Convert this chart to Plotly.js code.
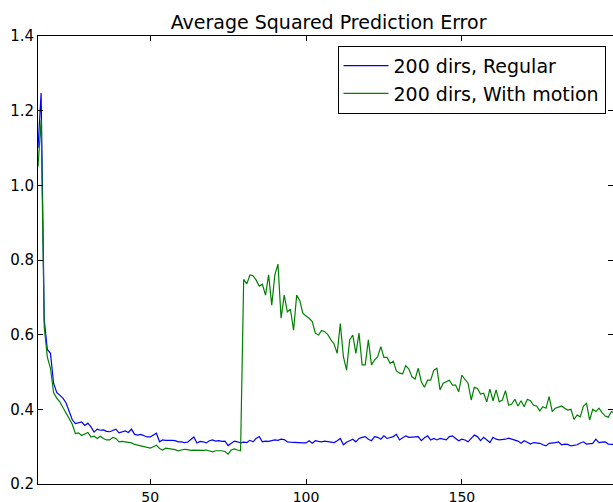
<!DOCTYPE html>
<html>
<head>
<meta charset="utf-8">
<script src="https://cdn.plot.ly/plotly-3.0.1.min.js"></script>
<style>html,body{margin:0;padding:0;background:#fff;}#chart{width:613px;height:502px;}</style>
</head>
<body>
<div id="chart"></div>
<script>
const xStart = 14;
const regular = [
1.10,1.247,0.64,0.56,0.55,0.47,0.445,0.437,0.43,0.417,
0.395,0.372,0.362,0.363,0.366,0.357,0.363,0.353,0.339,0.347,
0.344,0.345,0.341,0.340,0.343,0.347,0.337,0.340,0.342,0.338,
0.347,0.333,0.331,0.333,0.330,0.326,0.326,0.331,0.336,0.313,
0.318,0.317,0.318,0.317,0.316,0.313,0.313,0.311,0.312,0.318,
0.326,0.310,0.314,0.313,0.310,0.316,0.318,0.315,0.316,0.314,
0.315,0.303,0.310,0.315,0.313,0.310,0.312,0.311,0.317,0.313,
0.322,0.327,0.313,0.315,0.314,0.316,0.318,0.317,0.320,0.319,
0.313,0.312,0.311,0.311,0.310,0.310,0.310,0.316,0.309,0.316,
0.314,0.313,0.315,0.314,0.312,0.311,0.316,0.322,0.305,0.312,
0.316,0.320,0.313,0.322,0.325,0.327,0.320,0.316,0.327,0.325,
0.320,0.329,0.322,0.325,0.327,0.333,0.318,0.324,0.329,0.325,
0.326,0.327,0.327,0.316,0.324,0.329,0.318,0.322,0.318,0.322,
0.320,0.318,0.327,0.329,0.322,0.316,0.320,0.318,0.313,0.322,
0.331,0.327,0.316,0.325,0.318,0.311,0.325,0.320,0.318,0.318,
0.320,0.323,0.320,0.318,0.315,0.309,0.316,0.312,0.307,0.311,
0.310,0.309,0.305,0.302,0.309,0.309,0.311,0.313,0.305,0.307,
0.306,0.302,0.304,0.305,0.310,0.313,0.307,0.308,0.309,0.320,
0.311,0.312,0.313,0.307,0.307,0.306
];
const withMotion = [
1.05,1.175,0.62,0.54,0.51,0.445,0.43,0.42,0.405,0.39,
0.377,0.36,0.335,0.337,0.33,0.335,0.338,0.326,0.328,0.322,
0.328,0.322,0.318,0.318,0.325,0.322,0.313,0.314,0.313,0.312,
0.31,0.306,0.304,0.303,0.30,0.30,0.296,0.30,0.304,0.295,
0.291,0.296,0.295,0.294,0.292,0.289,0.291,0.293,0.292,0.29,
0.291,0.29,0.289,0.29,0.291,0.288,0.286,0.289,0.29,0.289,
0.287,0.28,0.291,0.294,0.291,0.289,0.748,0.736,0.76,0.758,
0.746,0.73,0.735,0.706,0.76,0.679,0.76,0.789,0.644,0.706,
0.661,0.668,0.612,0.706,0.691,0.657,0.65,0.644,0.635,0.604,
0.599,0.611,0.608,0.60,0.586,0.575,0.55,0.63,0.541,0.505,
0.586,0.599,0.55,0.604,0.519,0.519,0.586,0.519,0.532,0.541,
0.568,0.539,0.539,0.523,0.529,0.503,0.497,0.495,0.517,0.508,
0.487,0.481,0.51,0.474,0.459,0.478,0.478,0.505,0.51,0.452,
0.47,0.474,0.478,0.465,0.465,0.447,0.492,0.48,0.47,0.425,
0.459,0.456,0.441,0.443,0.42,0.454,0.423,0.452,0.42,0.425,
0.45,0.411,0.414,0.427,0.409,0.423,0.407,0.427,0.423,0.411,
0.409,0.396,0.407,0.403,0.434,0.394,0.403,0.406,0.409,0.403,
0.398,0.40,0.373,0.385,0.38,0.409,0.416,0.371,0.40,0.394,
0.403,0.391,0.382,0.379,0.394,0.39
];
const seriesNames = ["200 dirs, Regular", "200 dirs, With motion"];
const xTickVals = [50, 100, 150];
const yTickVals = [0.2, 0.4, 0.6, 0.8, 1.0, 1.2, 1.4];
const chartTitle = "Average Squared Prediction Error";

const xs = regular.map((_, i) => xStart + i);
const xs2 = withMotion.map((_, i) => xStart + i);

const font = {family: "DejaVu Sans", color: "#000"};
const traces = [
  {x: xs, y: regular, type: "scatter", mode: "lines", name: seriesNames[0],
   line: {color: "#0000ff", width: 1.2}},
  {x: xs2, y: withMotion, type: "scatter", mode: "lines", name: seriesNames[1],
   line: {color: "#008000", width: 1.2}}
];
const axisCommon = {
  showgrid: false, zeroline: false, showline: true, linecolor: "#000", linewidth: 1,
  mirror: "ticks", ticks: "inside", ticklen: 5, tickcolor: "#000", tickwidth: 1,
  tickfont: Object.assign({size: 14}, font)
};
const layout = {
  width: 613, height: 502,
  margin: {l: 38, r: 0, t: 36, b: 18},
  paper_bgcolor: "#fff", plot_bgcolor: "#fff",
  font: font,
  title: {text: chartTitle, font: Object.assign({size: 19}, font), x: 0.536, xanchor: "center", y: 0.955, yanchor: "middle"},
  xaxis: Object.assign({}, axisCommon, {range: [14, 198.5], tickvals: xTickVals, ticktext: xTickVals.map(String)}),
  yaxis: Object.assign({}, axisCommon, {range: [0.2, 1.4], tickvals: yTickVals, ticktext: yTickVals.map(v => v.toFixed(1)), tickfont: Object.assign({size: 15}, font)}),
  showlegend: true,
  legend: {x: 0.987, xanchor: "right", y: 0.978, yanchor: "top", bgcolor: "#fff",
           bordercolor: "#000", borderwidth: 1, font: Object.assign({size: 19}, font),
           itemwidth: 45, tracegroupgap: 0}
};
Plotly.newPlot("chart", traces, layout, {displayModeBar: false, staticPlot: true});
</script>
</body>
</html>
